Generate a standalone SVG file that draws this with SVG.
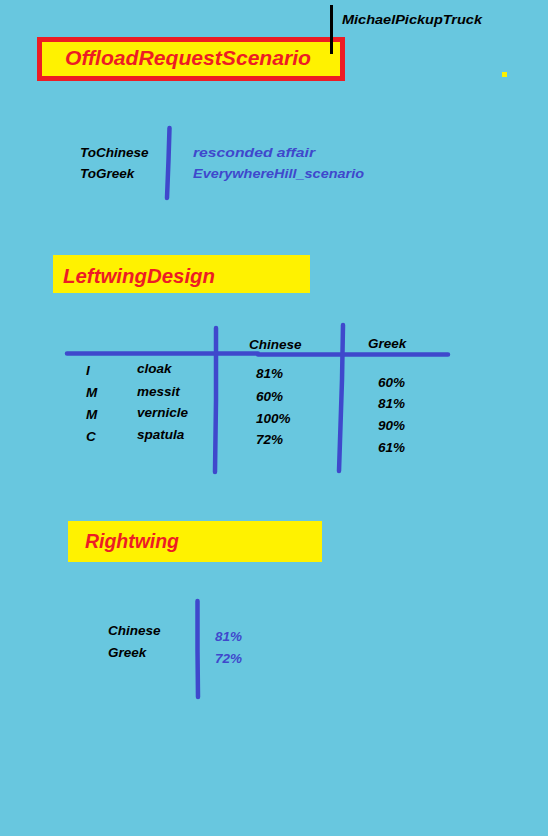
<svg xmlns="http://www.w3.org/2000/svg" width="548" height="836" viewBox="0 0 548 836">
<style>
text{font-family:"Comic Sans MS","Liberation Sans","DejaVu Sans",sans-serif;font-style:italic;font-weight:bold}
.t{font-size:13.5px;fill:#000}
.b{font-size:13.5px;fill:#3F48CC}
.h{font-size:20px;fill:#ED1C24}
.ln{stroke:#3F48CC;stroke-width:4.5;stroke-linecap:round;stroke-linejoin:round;fill:none}
.box{fill:#FFF200}
</style>
<rect width="548" height="836" fill="#68C7DF"/>
<g id="title">
<rect x="39.5" y="39.5" width="303" height="39" fill="#FFF200" stroke="#ED1C24" stroke-width="5"/>
<text class="h" x="65" y="65" textLength="246" lengthAdjust="spacingAndGlyphs">OffloadRequestScenario</text>
</g>
<g id="truck">
<line x1="331.5" y1="5" x2="331.5" y2="54" stroke="#000" stroke-width="3"/>
<text class="t" x="342" y="24" textLength="140" lengthAdjust="spacingAndGlyphs">MichaelPickupTruck</text>
</g>
<rect x="502" y="72" width="5" height="5" fill="#FFF200"/>
<g id="translations">
<text class="t" x="80" y="157">ToChinese</text>
<text class="t" x="80" y="178">ToGreek</text>
<text class="b" x="193" y="157" textLength="122" lengthAdjust="spacingAndGlyphs">resconded affair</text>
<text class="b" x="193" y="178" textLength="171" lengthAdjust="spacingAndGlyphs">EverywhereHill_scenario</text>
</g>
<g id="leftwing">
<rect class="box" x="53" y="255" width="257" height="38"/>
<text class="h" x="63" y="283" textLength="152" lengthAdjust="spacingAndGlyphs">LeftwingDesign</text>
</g>
<g id="table">
<text class="t" x="249" y="349">Chinese</text>
<text class="t" x="368" y="348">Greek</text>
<text class="t" x="86" y="375">I</text>
<text class="t" x="86" y="397">M</text>
<text class="t" x="86" y="419">M</text>
<text class="t" x="86" y="441">C</text>
<text class="t" x="137" y="373">cloak</text>
<text class="t" x="137" y="396">messit</text>
<text class="t" x="137" y="417">vernicle</text>
<text class="t" x="137" y="439">spatula</text>
<text class="t" x="256" y="378">81%</text>
<text class="t" x="256" y="401">60%</text>
<text class="t" x="256" y="423">100%</text>
<text class="t" x="256" y="444">72%</text>
<text class="t" x="378" y="387">60%</text>
<text class="t" x="378" y="408">81%</text>
<text class="t" x="378" y="430">90%</text>
<text class="t" x="378" y="452">61%</text>
</g>
<g id="rightwing">
<rect class="box" x="68" y="521" width="254" height="41"/>
<text class="h" x="85" y="548" textLength="94" lengthAdjust="spacingAndGlyphs">Rightwing</text>
</g>
<g id="rightvalues">
<text class="t" x="108" y="635">Chinese</text>
<text class="t" x="108" y="657">Greek</text>
<text class="b" x="215" y="641">81%</text>
<text class="b" x="215" y="663">72%</text>
</g>
<g id="connectors">
<path class="ln" d="M169.5 128 L168.5 160 L167 198"/>
<path class="ln" d="M67 353.5 H258 V354.5 H448"/>
<path class="ln" d="M216 328 L216 400 L215 472"/>
<path class="ln" d="M343 325 L342 380 L339 471"/>
<path class="ln" d="M197.5 601 L197.5 650 L198 697"/>
</g>
</svg>
